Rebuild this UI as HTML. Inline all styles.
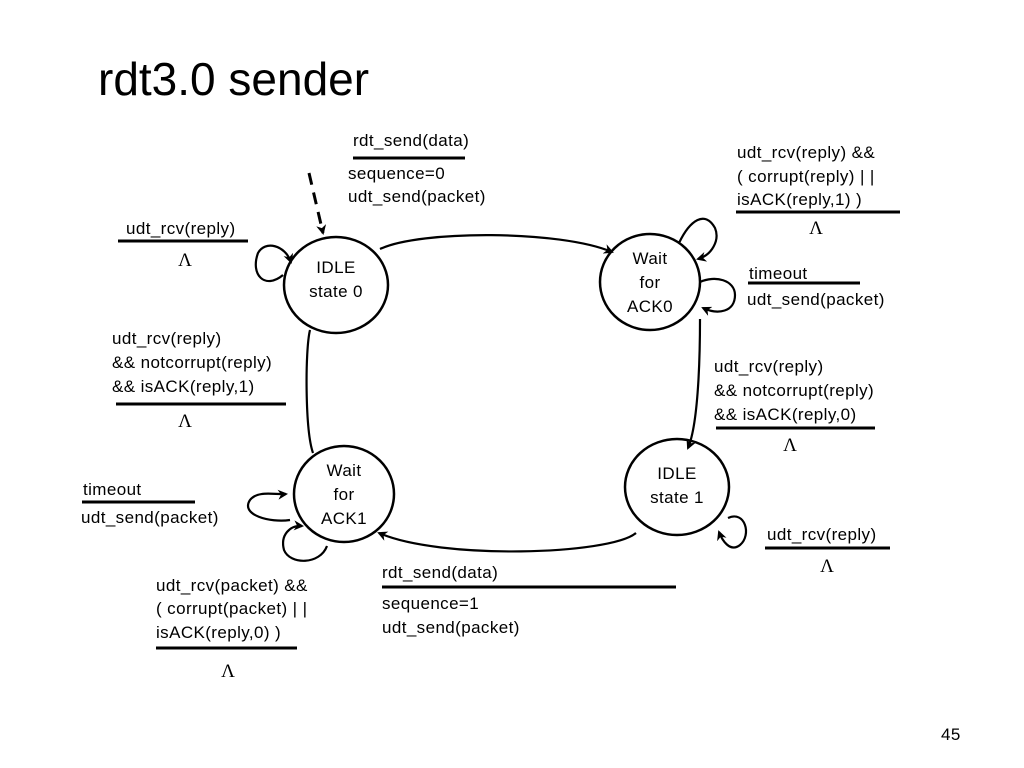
<!DOCTYPE html>
<html><head><meta charset="utf-8"><style>
body{margin:0;background:#fff}
svg{display:block}
text{font-family:"Liberation Sans",sans-serif;font-size:17px;letter-spacing:0.4px;fill:#000}
.l{font-family:"Liberation Serif",serif;font-size:19px;letter-spacing:0}
</style></head><body>
<svg width="1024" height="768" viewBox="0 0 1024 768">
<defs><marker id="a" markerWidth="10" markerHeight="10" refX="8" refY="5" orient="auto" markerUnits="userSpaceOnUse"><path d="M0,0 L10,5 L0,10 L3,5 Z" fill="#000"/></marker></defs>
<text x="98" y="95" style="font-size:46px;letter-spacing:0">rdt3.0 sender</text>
<g fill="none" stroke="#000" stroke-width="2.5">
<ellipse cx="336" cy="285" rx="52" ry="48"/>
<ellipse cx="650" cy="282" rx="50" ry="48"/>
<ellipse cx="344" cy="494" rx="50" ry="48"/>
<ellipse cx="677" cy="487" rx="52" ry="48"/>
</g>
<g fill="none" stroke="#000" stroke-width="2.2">
<path d="M309,173 L323,233" stroke-width="3" stroke-dasharray="12,8" marker-end="url(#a)"/>
<path d="M380,249 C420,230 560,230 612,252" marker-end="url(#a)"/>
<path d="M700,319 C700,335 700,420 688,448" marker-end="url(#a)"/>
<path d="M636,533 C610,555 440,560 379,533" marker-end="url(#a)"/>
<path d="M313,453 C305,430 305,350 310,330"/>
<path d="M283,275 C265,290 250,275 258,253 C265,240 285,245 291,262" marker-end="url(#a)"/>
<path d="M679,243 C690,220 705,210 715,228 C720,240 712,255 698,259" marker-end="url(#a)"/>
<path d="M700,282 C715,275 735,280 735,295 C735,312 718,315 703,308" marker-end="url(#a)"/>
<path d="M290,520 C270,523 240,515 250,500 C258,490 275,495 286,494" marker-end="url(#a)"/>
<path d="M327,546 C320,565 290,565 284,550 C280,535 290,525 302,526" marker-end="url(#a)"/>
<path d="M728,518 C745,510 752,535 740,545 C730,553 722,540 719,532" marker-end="url(#a)"/>
</g>
<g stroke="#000" stroke-width="3">
<line x1="353" y1="158" x2="465" y2="158"/>
<line x1="736" y1="212" x2="900" y2="212"/>
<line x1="118" y1="241" x2="248" y2="241"/>
<line x1="748" y1="283" x2="860" y2="283"/>
<line x1="116" y1="404" x2="286" y2="404"/>
<line x1="716" y1="428" x2="875" y2="428"/>
<line x1="82" y1="502" x2="195" y2="502"/>
<line x1="765" y1="548" x2="890" y2="548"/>
<line x1="382" y1="587" x2="676" y2="587"/>
<line x1="156" y1="648" x2="297" y2="648"/>
</g>
<g text-anchor="middle">
<text x="336" y="273">IDLE</text><text x="336" y="297">state 0</text>
<text x="650" y="264">Wait</text><text x="650" y="288">for</text><text x="650" y="312">ACK0</text>
<text x="344" y="476">Wait</text><text x="344" y="500">for</text><text x="344" y="524">ACK1</text>
<text x="677" y="479">IDLE</text><text x="677" y="503">state 1</text>
<text class="l" x="185" y="266">Λ</text>
<text class="l" x="816" y="234">Λ</text>
<text class="l" x="185" y="427">Λ</text>
<text class="l" x="790" y="451">Λ</text>
<text class="l" x="827" y="572">Λ</text>
<text class="l" x="228" y="677">Λ</text>
</g>
<text x="353" y="146">rdt_send(data)</text>
<text x="348" y="179">sequence=0</text>
<text x="348" y="202">udt_send(packet)</text>
<text x="737" y="158">udt_rcv(reply) &amp;&amp;</text>
<text x="737" y="182">( corrupt(reply) | |</text>
<text x="737" y="205">isACK(reply,1) )</text>
<text x="126" y="234">udt_rcv(reply)</text>
<text x="749" y="279">timeout</text>
<text x="747" y="305">udt_send(packet)</text>
<text x="112" y="344">udt_rcv(reply)</text>
<text x="112" y="368">&amp;&amp; notcorrupt(reply)</text>
<text x="112" y="392">&amp;&amp; isACK(reply,1)</text>
<text x="714" y="372">udt_rcv(reply)</text>
<text x="714" y="396">&amp;&amp; notcorrupt(reply)</text>
<text x="714" y="420">&amp;&amp; isACK(reply,0)</text>
<text x="83" y="495">timeout</text>
<text x="81" y="523">udt_send(packet)</text>
<text x="767" y="540">udt_rcv(reply)</text>
<text x="382" y="578">rdt_send(data)</text>
<text x="382" y="609">sequence=1</text>
<text x="382" y="633">udt_send(packet)</text>
<text x="156" y="591">udt_rcv(packet) &amp;&amp;</text>
<text x="156" y="614">( corrupt(packet) | |</text>
<text x="156" y="638">isACK(reply,0) )</text>
<text x="941" y="740">45</text>
</svg>
</body></html>
